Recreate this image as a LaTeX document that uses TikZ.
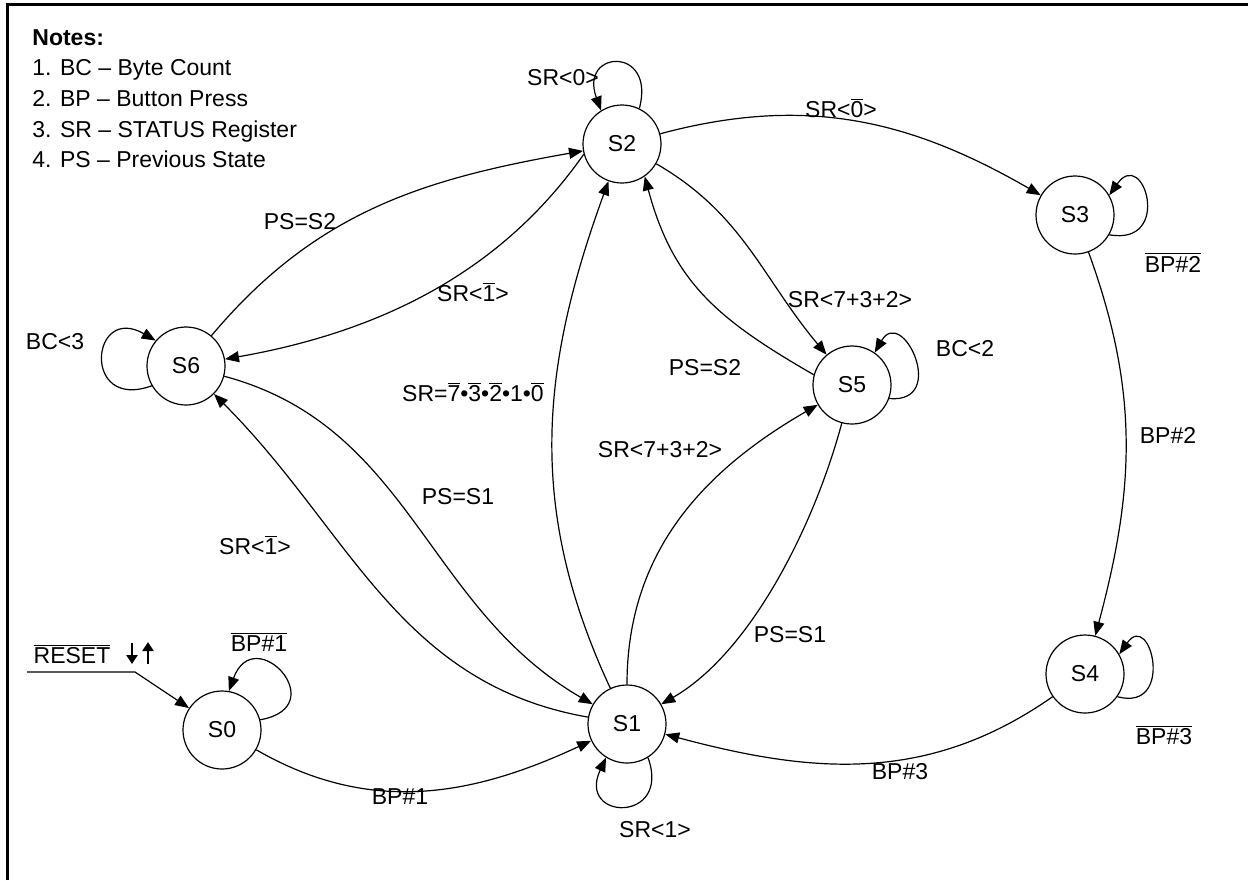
\documentclass[tikz,border=0pt]{standalone}
\usepackage{fontspec}
\setmainfont{Liberation Sans}
\usetikzlibrary{arrows.meta}
\newcommand\ovl[1]{$\overline{\mbox{#1}}$}
\begin{document}
\begin{tikzpicture}[x=0.5pt,y=0.5pt,
  st/.style={circle,draw,line width=0.6pt,minimum size=39pt,inner sep=0pt,font=\fontsize{11.5}{14}\selectfont},
  lbl/.style={font=\fontsize{11.5}{14}\selectfont,inner sep=0pt},
  arr/.style={-{Triangle[length=7pt,width=5.5pt]},line width=0.6pt},
  tiny/.style={-{Triangle[length=4.5pt,width=5.5pt]},line width=1.1pt},
]
\useasboundingbox (0,0) rectangle (1248,-880);
\draw[line width=1.5pt] (7,-880) -- (7,-4) -- (1248,-4);

\node[st] (s0) at (222,-730) {S0};
\node[st] (s1) at (627,-724) {S1};
\node[st] (s2) at (622,-144) {S2};
\node[st] (s3) at (1075,-215) {S3};
\node[st] (s4) at (1085,-674) {S4};
\node[st] (s5) at (852,-385) {S5};
\node[st] (s6) at (186,-366) {S6};

\node[lbl,anchor=north west,align=left,font=\fontsize{11.5}{15.3}\selectfont] (notes) at (32,-29)
  {\textbf{Notes:}\\1. BC – Byte Count\\2. BP – Button Press\\3. SR – STATUS Register\\4. PS – Previous State};

% RESET
\node[lbl] (reset) at (72,-654) {\ovl{RESET}};
\coordinate (ra) at (27,-672);
\coordinate (rb) at (135,-672);
\draw[arr] (ra) -- (rb) -- (s0);
\coordinate (dn1) at (132,-643); \coordinate (dn2) at (132,-664);
\coordinate (up1) at (148,-664); \coordinate (up2) at (148,-642);
\draw[tiny] (dn1) -- (dn2);
\draw[tiny] (up1) -- (up2);

% edges
\draw[arr] (s0) to[out=-30,in=205] (s1);
\draw[arr] (s0.15) .. controls +(10:75) and +(70:75) .. (s0.80);
\draw[arr] (s1.-58) .. controls +(-70:70) and +(-115:70) .. (s1.-122);
\draw[arr] (s2.64) .. controls +(75:65) and +(110:65) .. (s2.122);
\draw[arr] (s2) to[out=15,in=150] (s3);
\draw[arr] (s3.-30) .. controls +(-10:65) and +(55:60) .. (s3.30);
\draw[arr] (s3) to[out=-70,in=75] (s4);
\draw[arr] (s4.-35) .. controls +(-15:60) and +(55:55) .. (s4.30);
\draw[arr] (s4) to[out=215,in=-15] (s1);
\draw[arr] (s1) to[out=115,in=-110] (s2);
\draw[arr] (s6) to[out=-15,in=150] (s1);
\draw[arr] (s1) to[out=170,in=-45] (s6);
\draw[arr] (s6) to[out=50,in=190] (s2);
\draw[arr] (s2.195) .. controls +(235:150) and +(10:150) .. (s6.10);
\draw[arr] (s2) to[out=-30,in=130] (s5);
\draw[arr] (s5.165) .. controls +(150:110) and +(-75:110) .. (s2.-55);
\draw[arr] (s1) to[out=90,in=210] (s5);
\draw[arr] (s5) to[out=-105,in=30,looseness=0.8] (s1);
\draw[arr] (s5.-20) .. controls +(-5:60) and +(60:55) .. (s5.55);
\draw[arr] (s6.210) .. controls +(200:75) and +(150:75) .. (s6.140);

% labels
\node[lbl] (lsr0) at (563,-78) {SR<0>};
\node[lbl] (lsr0b) at (841,-108) {SR<\ovl{0}>};
\node[lbl] (lps2a) at (300,-222) {PS=S2};
\node[lbl] (lsr1a) at (473,-292) {SR<\ovl{1}>};
\node[lbl] (lbc3) at (55,-342) {BC<3};
\node[lbl] (lsrx) at (473,-392) {SR=\ovl{7}•\ovl{3}•\ovl{2}•1•\ovl{0}};
\node[lbl] (lps2b) at (705,-368) {PS=S2};
\node[lbl] (lsra) at (850,-300) {SR<7+3+2>};
\node[lbl] (lbc2) at (965,-349) {BC<2};
\node[lbl] (lps1a) at (458,-497) {PS=S1};
\node[lbl] (lsrb) at (660,-450) {SR<7+3+2>};
\node[lbl] (lsr1b) at (255,-545) {SR<\ovl{1}>};
\node[lbl] (lbp2) at (1168,-435) {BP\#2};
\node[lbl] (lps1b) at (790,-635) {PS=S1};
\node[lbl] (lbp1) at (400,-797) {BP\#1};
\node[lbl] (lbp3) at (900,-772) {BP\#3};
\node[lbl] (lbp3b) at (1164,-735) {\ovl{BP\#3}};
\node[lbl] (lsr1) at (655,-830) {SR<1>};
\node[lbl] (lbp2b) at (1173,-262) {\ovl{BP\#2}};
\node[lbl] (lbp1b) at (259,-642) {\ovl{BP\#1}};
\end{tikzpicture}
\end{document}
